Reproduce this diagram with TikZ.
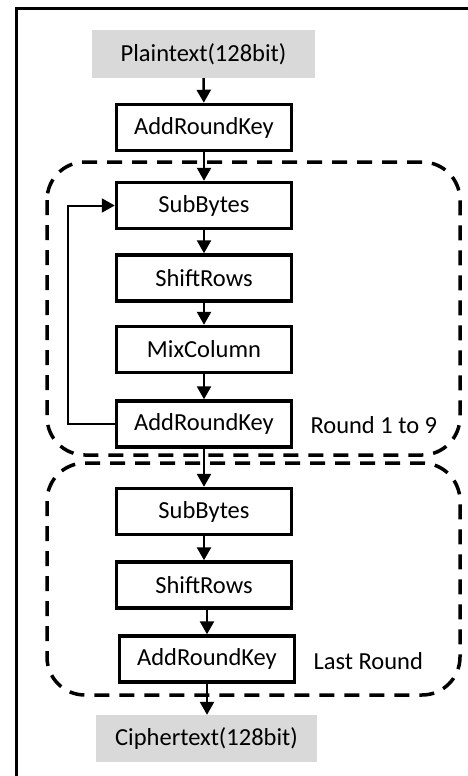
\documentclass[tikz,border=0pt]{standalone}
\usepackage{fontspec}
\setmainfont{Carlito}
\usetikzlibrary{arrows.meta}

\begin{document}
\begin{tikzpicture}[x=1pt,y=1pt,
  stage/.style={draw=black, line width=3.5pt, minimum width=175pt, minimum height=46pt, inner sep=0pt},
  io/.style={fill=black!15, minimum width=223pt, minimum height=48pt, inner sep=0pt},
  flow/.style={line width=2.5pt, -{Triangle[length=13pt,width=14pt]}},
  roundbox/.style={line width=3.5pt, dash pattern=on 15pt off 10pt, rounded corners=38pt}]
  \tikzstyle{every node}+=[font=\fontsize{24.5}{29}\selectfont]
  \useasboundingbox (0,0) rectangle (468,-776);
  % outer frame (only top and left edge fall on the page)
  \draw [line width=3pt] (16.5,-776) -- (16.5,-8.5) -- (468,-8.5);
  % round groups
  \draw [roundbox] (47,-162) rectangle (460,-455);
  \draw [roundbox] (47,-463) rectangle (460,-695);
  % stages
  \node [io] (plain) at (203.5,-54) {Plaintext(128bit)};
  \node [stage] (ark0) at (204,-127.5) {AddRoundKey};
  \node [stage] (sb1) at (204,-205.5) {SubBytes};
  \node [stage] (sr1) at (204,-278) {ShiftRows};
  \node [stage] (mc) at (204,-349.5) {MixColumn};
  \node [stage] (ark1) at (204,-424) {AddRoundKey};
  \node [anchor=west] (lbl1) at (307,-425) {Round 1 to 9};
  \node [stage] (sb2) at (204,-511.5) {SubBytes};
  \node [stage] (sr2) at (204,-585) {ShiftRows};
  \node [stage] (ark2) at (207,-659) {AddRoundKey};
  \node [anchor=west] (lbl2) at (310,-661) {Last Round};
  \node [io, minimum width=221pt, minimum height=47pt] (cipher) at (206.5,-738.5) {Ciphertext(128bit)};
  % data flow
  \draw [flow] (plain) -- (ark0);
  \draw [flow] (ark0) -- (sb1);
  \draw [flow] (sb1) -- (sr1);
  \draw [flow] (sr1) -- (mc);
  \draw [flow] (mc) -- (ark1);
  \draw [flow] (ark1) -- (sb2);
  \draw [flow] (sb2) -- (sr2);
  \draw [flow] (ark2.north |- sr2.south) -- (ark2);
  \draw [flow] (ark2) -- (ark2 |- cipher.north);
  % loop back for the next round
  \draw [line width=2pt, -{Triangle[length=13pt,width=14pt]}] (ark1.west) -- ++(-47,0) |- (sb1.west);
\end{tikzpicture}
\end{document}
